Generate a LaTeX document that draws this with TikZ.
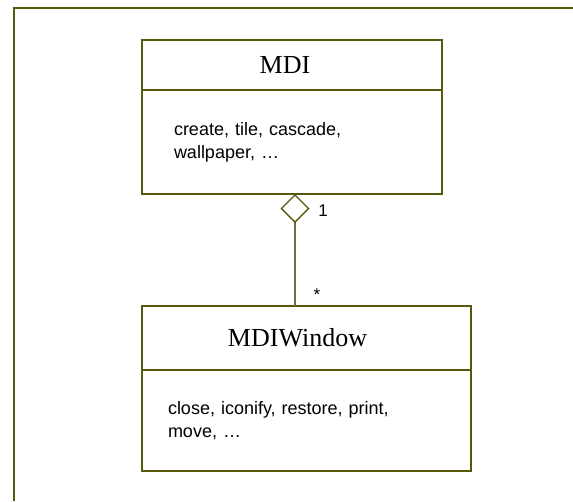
\documentclass[tikz,border=0pt]{standalone}
\usepackage{fontspec}
\setmainfont{Liberation Serif}
\setsansfont{Liberation Sans}
\usepackage{tikz}
\usetikzlibrary{
  arrows.meta,
  positioning
}
\definecolor{umlolive}{RGB}{88,88,12}
\definecolor{linkolive}{RGB}{112,112,60}
\tikzset{
  classname/.style={draw=umlolive, line width=1.3pt, outer sep=0pt,
    inner sep=0pt, font=\fontsize{26}{30}\selectfont},
  classops/.style={draw=umlolive, line width=1.3pt, outer sep=0pt,
    align=left, inner ysep=0pt,
    font=\sffamily\fontsize{18}{23}\selectfont},
  mult/.style={font=\sffamily\fontsize{17}{18}\selectfont, inner sep=0pt},
  aggr/.style={{Diamond[open, length=29pt, width=29pt, line width=1.4pt,
    umlolive]}-, draw=linkolive, line width=1.1pt},
}

\begin{document}
\begin{tikzpicture}[x=1pt, y=-1pt]
  \useasboundingbox (0,0) rectangle (573,501);

  % Frame (cut at the right and bottom)
  \draw[umlolive, line width=1.6pt] (573,8) -- (14,8) -- (14,501);

  % Classes
  \node[classname, minimum width=300pt, minimum height=50pt] (mdi)
    at (292,65) {\hspace*{-14pt}MDI};
  \node[classops, minimum width=300pt, minimum height=104pt,
        text width=236pt, inner xsep=32pt, below=0pt of mdi] (mdiops)
    {create, tile, cascade,\\wallpaper, \dots};

  \node[classname, minimum width=329pt, minimum height=64pt] (win)
    at (306.5,338) {\hspace*{-18pt}MDIWindow};
  \node[classops, minimum width=329pt, minimum height=101pt,
        text width=277pt, inner xsep=26pt, below=0pt of win] (winops)
    {close, iconify, restore, print,\\move, \dots\\[7pt]};

  % Aggregation
  \draw[aggr] ([xshift=3pt]mdiops.south) -- ([xshift=3pt]mdiops.south |- win.north);
  \node[mult] (one) at (323,211) {1};
  \node[mult] (many) at (317,295) {*};
\end{tikzpicture}
\end{document}
